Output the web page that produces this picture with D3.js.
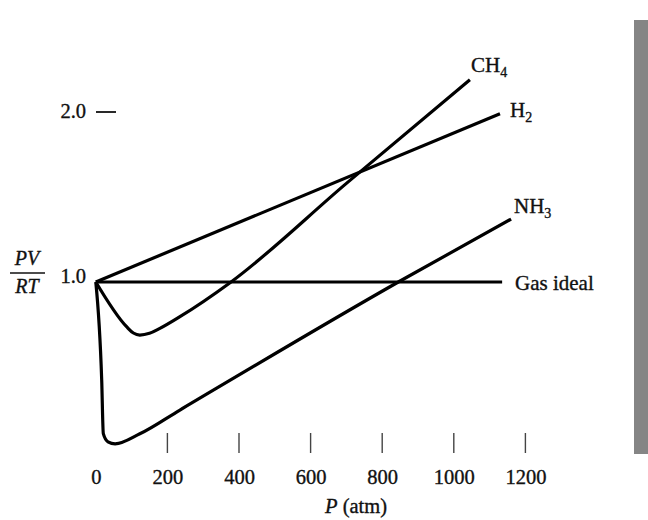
<!DOCTYPE html>
<html><head><meta charset="utf-8">
<script src="https://cdn.jsdelivr.net/npm/d3@7"></script>
<style>
html,body{margin:0;padding:0;background:#fff;}
svg{display:block;}
text{font-family:"Liberation Serif","Times New Roman",serif;fill:#111;stroke:#111;stroke-width:0.35px;}
</style></head>
<body>
<svg id="chart" width="648" height="520"></svg>
<script>
// ---- data ----
const xTicks = [0, 200, 400, 600, 800, 1000, 1200];
const yTicks = [1.0, 2.0];
const idealP = [0, 1135];
const idealV = [1.0, 1.0];
const h2P = [0, 1129];
const h2V = [1.0, 1.99];
const ch4P = [0, 86, 105, 123, 150, 179, 235, 375, 700, 1045];
const ch4V = [1.0, 0.737, 0.70, 0.688, 0.698, 0.727, 0.796, 0.996, 1.58, 2.19];
const nh3P = [0, 16.5, 21, 34, 54, 123, 235, 845, 1160];
const nh3V = [1.0, 0.422, 0.108, 0.06, 0.048, 0.107, 0.247, 1.0, 1.37];
const seriesLabels = ["CH", "H", "NH", "Gas ideal"];
const seriesSubs = ["4", "2", "3", ""];

const svg = d3.select("#chart");
const x = d3.scaleLinear().domain([0, 1200]).range([95.8, 525.4]);
const y = d3.scaleLinear().domain([1, 2]).range([282, 112]);

// scan artefact strip at right edge
svg.append("rect").attr("x", 634).attr("y", 20).attr("width", 14).attr("height", 434)
  .attr("fill", "#858585");

const line = d3.line().x(d => x(d[0])).y(d => y(d[1])).curve(d3.curveMonotoneX);
const zip = (a, b) => a.map((v, i) => [v, b[i]]);
const series = [zip(ch4P, ch4V), zip(h2P, h2V), zip(nh3P, nh3V), zip(idealP, idealV)];

const g = svg.append("g");
g.selectAll("path.s").data(series).join("path")
  .attr("class", "s")
  .attr("d", line)
  .attr("fill", "none")
  .attr("stroke", "#000")
  .attr("stroke-width", 3.2)
  .attr("stroke-linejoin", "round")
  .attr("stroke-linecap", "butt");

// x axis: floating ticks and labels, no domain line
const xAxis = d3.axisBottom(x).tickValues(xTicks).tickFormat(d3.format("d")).tickSize(0).tickPadding(0);
const xa = svg.append("g").attr("transform", "translate(0,484)").call(xAxis);
xa.select(".domain").remove();
xa.selectAll(".tick text").attr("dy", 0).attr("y", 0)
  .style("font-family", '"Liberation Serif",serif').style("font-size", "20.5px")
  .attr("fill", "#111").attr("stroke", "#111").attr("stroke-width", 0.35);
svg.selectAll("line.xt").data(xTicks.filter(d => d > 0)).join("line")
  .attr("class", "xt")
  .attr("x1", d => x(d)).attr("x2", d => x(d))
  .attr("y1", 433).attr("y2", 453)
  .attr("stroke", "#444").attr("stroke-width", 1.4);

// y labels
svg.selectAll("text.yl").data(yTicks).join("text")
  .attr("class", "yl")
  .attr("x", 86).attr("y", d => d === 1 ? y(d) + 1 : y(d) + 6)
  .attr("text-anchor", "end")
  .style("font-size", "20.5px")
  .text(d => d.toFixed(1));
svg.append("line").attr("x1", 96).attr("x2", 116).attr("y1", y(2)).attr("y2", y(2))
  .attr("stroke", "#111").attr("stroke-width", 1.8);

// y title as fraction PV/RT
const yt = svg.append("g");
yt.append("text").attr("x", 27).attr("y", 265).attr("text-anchor", "middle")
  .style("font-size", "20px").style("font-style", "italic").text("PV");
yt.append("line").attr("x1", 10).attr("x2", 45).attr("y1", 273).attr("y2", 273)
  .attr("stroke", "#111").attr("stroke-width", 1.4);
yt.append("text").attr("x", 27).attr("y", 293).attr("text-anchor", "middle")
  .style("font-size", "20px").style("font-style", "italic").text("RT");

// x title
const xt = svg.append("text").attr("x", 356).attr("y", 513).attr("text-anchor", "middle")
  .style("font-size", "20.5px");
xt.append("tspan").style("font-style", "italic").text("P");
xt.append("tspan").text(" (atm)");

// series labels
const labelPos = [[471, 72], [510, 117], [514, 213], [515, 290]];
labelPos.forEach((p, i) => {
  const t = svg.append("text").attr("x", p[0]).attr("y", p[1]).style("font-size", "21px");
  t.append("tspan").text(seriesLabels[i]);
  if (seriesSubs[i]) t.append("tspan").attr("dy", 5).style("font-size", "14px").text(seriesSubs[i]);
});
</script>
</body></html>
